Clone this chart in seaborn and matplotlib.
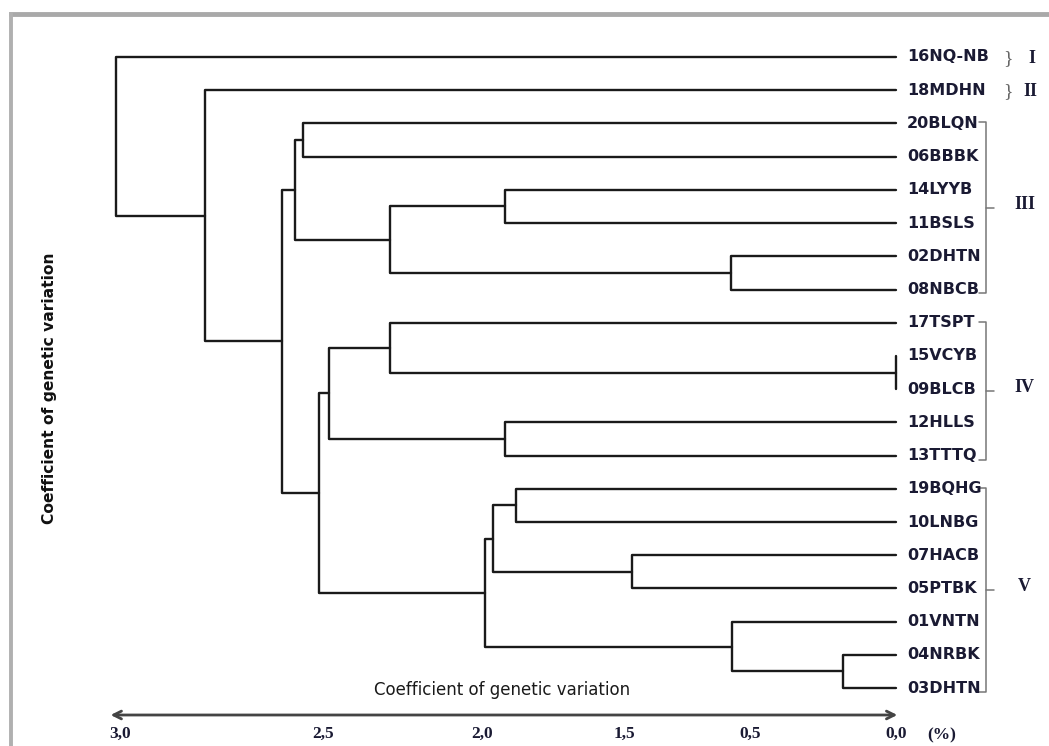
import numpy as np
import pandas as pd
import matplotlib
matplotlib.use('Agg')
import matplotlib.pyplot as plt
from matplotlib.lines import Line2D
import seaborn as sns

# leaf order top to bottom
leaves = ['16NQ-NB', '18MDHN', '20BLQN', '06BBBK', '14LYYB', '11BSLS', '02DHTN',
          '08NBCB', '17TSPT', '15VCYB', '09BLCB', '12HLLS', '13TTTQ', '19BQHG',
          '10LNBG', '07HACB', '05PTBK', '01VNTN', '04NRBK', '03DHTN']

# merges: (child a, child b, height); ids >= 20 are earlier merges
merge_a = [2, 4, 6, 21, 20, 9, 8, 11, 26, 13, 15, 29, 18, 17, 31, 28, 24, 1, 0]
merge_b = [3, 5, 7, 22, 23, 10, 25, 12, 27, 14, 16, 30, 19, 32, 33, 34, 35, 36, 37]
merge_h = [2.55, 1.92, 0.65, 2.29, 2.57, 0.0, 2.29, 1.92, 2.48, 1.88, 1.44, 1.96,
           0.18, 0.64, 1.99, 2.51, 2.60, 2.79, 3.01]

# printed axis (labels are not evenly spaced on the original)
tick_vals = [0.0, 0.5, 1.5, 2.0, 2.5, 3.0]
tick_text = ['0,0', '0,5', '1,5', '2,0', '2,5', '3,0']
scale_u = [0, 146, 272, 414, 573, 776]

groups = ['III', 'IV', 'V']
group_first = [2, 8, 13]
group_last = [7, 12, 19]

sns.set_theme(style="white")
plt.rcParams['font.family'] = 'DejaVu Sans'

ext_v = [-1.0] + tick_vals + [4.0]
ext_u = [-292] + scale_u + [776 + 406]


def fwd(v):
    return np.interp(v, ext_v, ext_u)


def inv(u):
    return np.interp(u, ext_u, ext_v)


# build the dendrogram segments
n = len(leaves)
pos_y = {i: float(i) for i in range(n)}
pos_x = {i: 0.0 for i in range(n)}
rows = []
for k, (a, b, h) in enumerate(zip(merge_a, merge_b, merge_h)):
    node = n + k
    ya, yb = pos_y[a], pos_y[b]
    xa, xb = pos_x[a], pos_x[b]
    for px, py in [(xa, ya), (h, ya), (h, yb), (xb, yb)]:
        rows.append({'seg': node, 'x': px, 'y': py})
    pos_y[node] = (ya + yb) / 2
    pos_x[node] = h
seg_df = pd.DataFrame(rows)

fig = plt.figure(figsize=(10.49, 7.46), dpi=100)
ax = fig.add_axes([0, 31 / 746, 1, 715 / 746])

sns.lineplot(data=seg_df, x='x', y='y', units='seg', estimator=None, sort=False,
             color='#1a1a1a', linewidth=1.7, ax=ax, legend=False)

ax.set_xscale('function', functions=(fwd, inv))
ax.set_xlim(3.2956, -0.524)
ax.set_ylim(19.81, -1.716)
for s in ax.spines.values():
    s.set_visible(False)
ax.set_xlabel('')
ax.set_ylabel('')
ax.set_yticks([])
ax.set_xticks(tick_vals)
ax.set_xticklabels(tick_text, family='Liberation Serif', fontweight='bold',
                   fontsize=12.5, color='#1a1a33')
ax.tick_params(axis='x', length=0, pad=8)
ax.xaxis.set_minor_locator(matplotlib.ticker.NullLocator())

# leaf labels
for i, name in enumerate(leaves):
    ax.annotate(name, xy=(0, i), xytext=(8, 0), textcoords='offset points',
                ha='left', va='center', fontsize=11.5, fontweight='bold',
                color='#1a1a33')

# braces for single-member groups
for i, g, gx in [(0, 'I', -0.466), (1, 'II', -0.459)]:
    ax.text(-0.384, i + 0.05, '}', ha='center', va='center', fontsize=14,
            family='Liberation Serif', color='#666666')
    ax.text(gx, i + 0.05, g, ha='center', va='center', fontsize=13,
            family='Liberation Serif', fontweight='bold', color='#1a1a33')

# brackets for groups III - V
for g, a, b in zip(groups, group_first, group_last):
    y0, y1 = a - 0.03, b + 0.12
    ym = (y0 + y1) / 2
    ax.plot([-0.284, -0.308, -0.308, -0.284], [y0, y0, y1, y1],
            color='#777777', lw=1.1)
    ax.plot([-0.308, -0.336], [ym, ym], color='#777777', lw=1.1)
    ax.text(-0.44, ym - 0.1, g, ha='center', va='center', fontsize=13,
            family='Liberation Serif', fontweight='bold', color='#1a1a33')

# double arrow along the axis
ax.annotate('', xy=(-0.014, 0), xytext=(3.03, 0),
            xycoords=('data', 'axes fraction'), textcoords=('data', 'axes fraction'),
            arrowprops=dict(arrowstyle='<->', color='#444444', lw=2.0,
                            mutation_scale=14), annotation_clip=False)
ax.text(-0.158, 20.42, '(%)', ha='center', va='center', fontsize=12.5,
        family='Liberation Serif', fontweight='bold', color='#1a1a33')

fig.text(502 / 1049, 1 - 690 / 746, 'Coefficient of genetic variation',
         ha='center', va='center', fontsize=12, color='#1a1a1a')
fig.text(50 / 1049, 1 - 388 / 746, 'Coefficient of genetic variation',
         ha='center', va='center', rotation=90, fontsize=11.2,
         fontweight='bold', color='#111111')

# screenshot frame
fig.add_artist(Line2D([9 / 1049, 1], [1 - 13.5 / 746] * 2, transform=fig.transFigure,
                      color='#a9a9a9', lw=3.5, solid_capstyle='butt'))
fig.add_artist(Line2D([11 / 1049] * 2, [0, 1 - 12 / 746], transform=fig.transFigure,
                      color='#b0b0b0', lw=2.8, solid_capstyle='butt'))

fig.savefig('out.png', dpi=100)
